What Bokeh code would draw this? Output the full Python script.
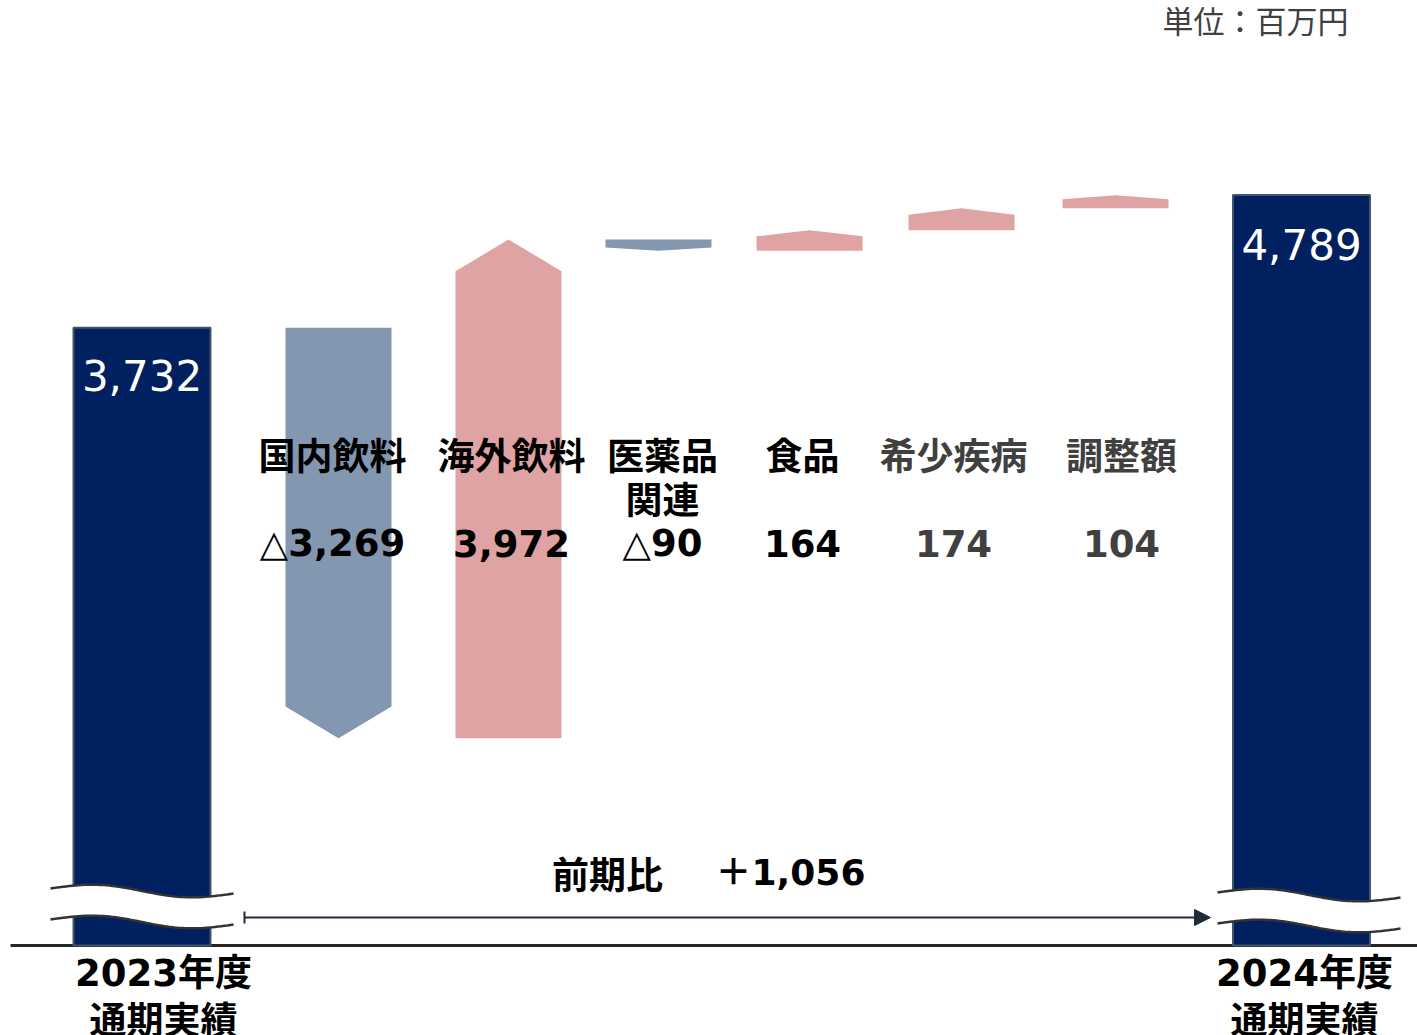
import numpy as np
from bokeh.plotting import figure
from bokeh.models import Range1d, Arrow, NormalHead, TeeHead
from bokeh.core.properties import value
from bokeh.embed import file_html
from bokeh.resources import INLINE

# ---- data (百万円) ----
start_label = "2023年度"
end_label = "2024年度"
period_label = "通期実績"
start_total = 3732
end_total = 4789
categories = ["国内飲料", "海外飲料", "医薬品関連", "食品", "希少疾病", "調整額"]
category_lines = [["国内飲料"], ["海外飲料"], ["医薬品", "関連"], ["食品"], ["希少疾病"], ["調整額"]]
deltas = [-3269, 3972, -90, 164, 174, 104]
yoy_change = 1056
unit_label = "単位：百万円"

# ---- layout ----
W, H = 1417, 1035
PX_PER_UNIT = 0.1256          # vertical scale
ZERO_PX = 796                 # pixel row of value 0 (axis is broken below the bars)
BASE_PX = 945                 # pixel row of the baseline
total_x = [141.5, 1301]
step_x = [338, 508, 658, 809, 961, 1115]
TOTAL_W = 137
STEP_W = 106
label_colors = ["#000000", "#000000", "#000000", "#000000", "#404040", "#404040"]

NAVY = "#002060"
NAVY_EDGE = "#44546a"
NEG = "#8497b0"
POS = "#e0a3a3"

CJK = "Noto Sans CJK JP"
MIX = "DejaVu Sans, Noto Sans CJK JP"


def v_at(py):
    return (ZERO_PX - py) / PX_PER_UNIT


def px_len(n):
    return n / PX_PER_UNIT


p = figure(width=W, height=H, x_range=Range1d(0, W),
           y_range=Range1d(v_at(H), v_at(0)),
           output_backend="svg", toolbar_location=None,
           x_axis_location=None, y_axis_location=None, min_border=0)
p.grid.visible = False
p.outline_line_color = None
p.background_fill_color = "white"

base_v = v_at(BASE_PX)

# baseline
p.line([10, W], [base_v, base_v], line_color="#262626", line_width=3)

# total bars
p.vbar(x=total_x, bottom=base_v, top=[start_total, end_total], width=TOTAL_W,
       fill_color=NAVY, line_color=NAVY_EDGE, line_width=2)

# step arrows (pentagon shapes pointing in the direction of change)
xs, ys, cols = [], [], []
level = start_total
for cx, d in zip(step_x, deltas):
    s, e = level, level + d
    head = 0.3 * min(px_len(STEP_W), abs(d))
    sgn = 1 if d > 0 else -1
    neck = e - sgn * head
    hw = STEP_W / 2
    xs.append([cx - hw, cx + hw, cx + hw, cx, cx - hw])
    ys.append([s, s, neck, e, neck])
    cols.append(POS if d > 0 else NEG)
    level = e
p.patches(xs, ys, fill_color=cols, line_color=None)

# wavy break marks across the total bars
for (x0, x1, y0) in [(50, 233, 888), (1217, 1400, 892)]:
    t = np.linspace(0, 1, 60)
    xx = x0 + (x1 - x0) * t
    top_px = y0 + 5 * t - 5 * np.sin(2 * np.pi * t)
    bot_px = top_px + 31
    top_v = v_at(top_px)
    bot_v = v_at(bot_px)
    p.patch(np.concatenate([xx, xx[::-1]]), np.concatenate([top_v, bot_v[::-1]]),
            fill_color="white", line_color=None)
    p.line(xx, top_v, line_color="#333333", line_width=2.5)
    p.line(xx, bot_v, line_color="#333333", line_width=2.5)

# year-over-year arrow
ay = v_at(917)
p.add_layout(Arrow(x_start=244, y_start=ay, x_end=1210, y_end=ay,
                   line_color="#222b3a", line_width=2,
                   start=TeeHead(size=12, line_color="#222b3a", line_width=2),
                   end=NormalHead(size=16, fill_color="#222b3a", line_color="#222b3a")))


def fmt(n):
    return ("△" if n < 0 else "") + f"{abs(n):,}"


def txt(x, py, s, size, color="#000000", font=MIX, style="bold", align="center"):
    p.text(x=[x], y=[v_at(py)], text=[s], text_font=value(font),
           text_font_size=f"{size}px", text_font_style=style, text_color=color,
           text_align=align, text_baseline="middle")


# total values
txt(total_x[0], 375, f"{start_total:,}", 42, "white", "DejaVu Sans", "normal")
txt(total_x[1], 244, f"{end_total:,}", 42, "white", "DejaVu Sans", "normal")

# category names and values
label_x = [332, 511, 662, 802, 953, 1121]
for lx, lines, d, c in zip(label_x, category_lines, deltas, label_colors):
    for i, line in enumerate(lines):
        txt(lx, 453 + 44 * i, line, 37, c, CJK)
    txt(lx, 543, fmt(d), 37, c)

# change vs previous year
txt(607, 872, "前期比", 37, font=CJK)
txt(790, 872, "＋" + f"{yoy_change:,}", 36)

# period labels
for cx, lab in zip([163, 1304], [start_label, end_label]):
    txt(cx, 973, lab, 37)
    txt(cx, 1017, period_label, 37, font=CJK)

# unit
txt(1255, 19, unit_label, 31, "#404040", CJK, "normal")

open("out.html", "w").write(file_html(p, INLINE))
